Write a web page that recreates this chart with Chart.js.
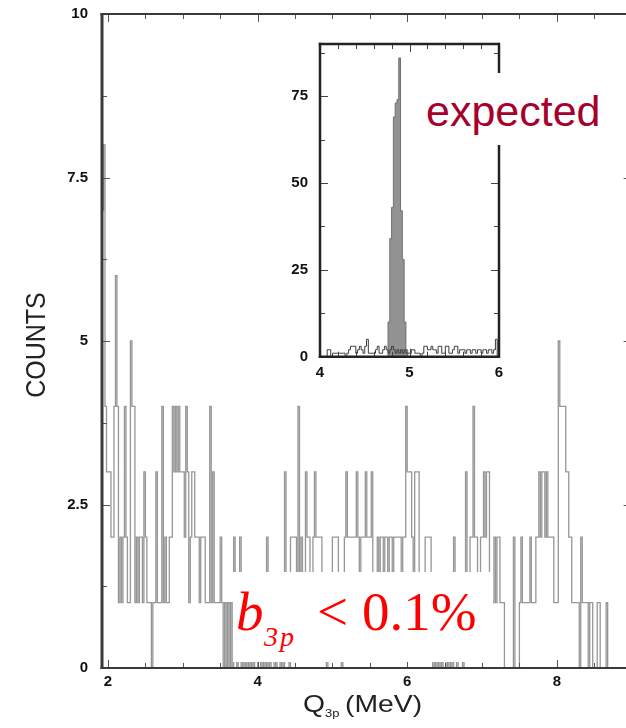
<!DOCTYPE html>
<html>
<head>
<meta charset="utf-8">
<script src="https://cdn.jsdelivr.net/npm/chart.js@4.4.1/dist/chart.umd.min.js"></script>
<style>
  html, body { margin: 0; padding: 0; background: #fff; width: 626px; height: 728px; overflow: hidden; }
  #wrap { position: relative; width: 626px; height: 728px; overflow: hidden; background: #fff; }
  #main { position: absolute; left: 0; top: 0; }
  #inset { position: absolute; left: 270px; top: 30px; }
  .box { position: absolute; background: #fff; }
  .t { position: absolute; white-space: nowrap; }
</style>
</head>
<body>
<div id="wrap">
  <canvas id="main" width="640" height="728"></canvas>
  <canvas id="inset" width="250" height="370"></canvas>

  <div class="box" style="left:420px;top:73px;width:190px;height:72px"></div>
  <span class="t" style="left:426px;top:89.6px;font:43px/1 'Liberation Sans',Arial,sans-serif;color:#a6002c">expected</span>

  <div class="box" style="left:233px;top:572px;width:260px;height:90px"></div>
  <span class="t" style="left:236px;top:584px;font:italic 55px/1 'Liberation Serif','Times New Roman',serif;color:#ff0000">b</span>
  <span class="t" style="left:264px;top:623px;font:italic 28px/1 'Liberation Serif','Times New Roman',serif;color:#ff0000;letter-spacing:2px">3p</span>
  <span class="t" style="left:317px;top:584px;font:55px/1 'Liberation Serif','Times New Roman',serif;color:#ff0000">&lt;</span>
  <span class="t" style="left:362px;top:584px;font:55px/1 'Liberation Serif','Times New Roman',serif;color:#ff0000">0.1%</span>
</div>

<script>
// ---- Q3p spectrum: counts per 20 keV bin, starting at 1.92 MeV ----
const mainBinStart = 1.92;
const mainBinWidth = 0.02;
const mainCounts = [
  10,7,8,4,3,3,3,2,2,4,6,4,1,2,1,2,4,2,1,1,5,4,4,1,2,
  1,2,2,1,3,2,1,1,1,0,1,1,3,1,1,1,4,1,2,1,1,2,2,4,3,
  4,3,4,3,3,3,2,4,3,1,2,3,3,2,2,2,1,2,2,2,1,1,1,4,1,
  3,1,1,1,1,2,1,0,1,0,1,0,1,0,2,1,0,1,2,0,1,0,1,0,1,
  0,1,0,1,1,0,0,1,0,1,0,2,0,1,0,0,1,0,1,1,0,1,0,3,1,
  1,0,2,2,2,2,1,4,1,2,1,1,3,2,2,1,1,2,3,2,2,2,2,1,1,
  1,0,1,1,1,2,2,2,2,1,1,0,1,2,3,2,2,2,2,2,2,3,2,1,2,
  2,2,3,2,2,2,3,1,1,1,2,1,2,2,1,2,2,1,2,2,1,2,2,2,2,
  2,1,2,2,4,3,3,3,2,1,3,3,3,1,1,1,1,2,2,2,2,1,0,1,0,
  1,0,1,0,1,1,0,1,0,1,0,2,1,0,1,1,1,0,1,3,1,1,2,2,4,
  2,2,1,1,2,2,3,2,3,3,1,1,1,2,1,2,2,1,1,1,0,0,0,0,0,
  0,2,0,0,0,1,2,1,1,1,1,1,2,1,1,1,2,2,3,2,3,3,2,3,2,
  2,2,2,1,1,1,5,4,4,4,4,3,3,2,2,1,1,1,1,1,0,2,1,1,1,
  1,0,1,1,0,0,0,1,1,0,0,0,0,1,0,0,0,0,0,0,0,0,0,0,0
];
const mainXRange = [1.92, 9.0];
const mainYRange = [0, 10];
const mainXLabels = [2, 4, 6, 8];
const mainYLabels = [0, 2.5, 5, 7.5, 10];

// ---- expected spectrum (inset): peak and measured background, 20 keV bins ----
const insetBinWidth = 0.02;
const peakStart = 4.76;
const peakCounts = [2, 10, 34, 43, 69, 73, 74, 86, 42, 28, 10, 2];
const bgStart = 4.0;
const bgCounts = [
  0,0,0,0,0,2,2,0,1,1,
  1,1,1,1,1,0,1,2,3,3,
  3,1,2,3,2,1,3,5,1,1,
  1,1,2,3,1,1,2,3,2,1,
  2,3,2,1,2,1,2,1,2,1,
  1,1,2,2,1,1,1,0,1,3,
  3,2,2,3,2,2,1,3,3,1,
  1,3,3,1,1,2,3,3,1,2,
  2,2,1,2,2,1,2,2,1,2,
  2,1,2,2,1,2,2,1,2,5
];
const insetXRange = [4, 6];
const insetYRange = [0, 90];
const insetXLabels = [4, 5, 6];
const insetYLabels = [0, 25, 50, 75];

// histogram outline as step points (bin edges), closed to zero at both ends
function stepPoints(start, width, counts) {
  const pts = [{ x: start, y: 0 }];
  counts.forEach((c, i) => pts.push({ x: +(start + i * width).toFixed(4), y: c }));
  pts.push({ x: +(start + counts.length * width).toFixed(4), y: 0 });
  return pts;
}

function seq(from, to, step) {
  const out = [];
  for (let v = from; v <= to + 1e-9; v += step) out.push(+v.toFixed(4));
  return out;
}

const isIn = (arr, v) => arr.some(a => Math.abs(a - v) < 1e-6);

// fixed axis box sizes, no extra room reserved for label overhang
const fixWidth = w => s => { s.width = w; s.paddingTop = 0; s.paddingBottom = 0; };
const fixHeight = h => s => { s.height = h; s.paddingLeft = 0; s.paddingRight = 0; };

// frame with inward major/minor ticks on all four sides
function framePlugin(o) {
  return {
    id: 'frame',
    afterDatasetsDraw(chart) {
      const { ctx, chartArea: a, scales: { x, y } } = chart;
      ctx.save();
      ctx.strokeStyle = o.tickColor;
      ctx.lineWidth = 1;
      ctx.beginPath();
      o.xTicks.forEach(v => {
        const px = Math.round(x.getPixelForValue(v)) + 0.5;
        const len = isIn(o.xMajor, v) ? o.majorLen : o.minorLen;
        ctx.moveTo(px, a.top); ctx.lineTo(px, a.top + len);
        ctx.moveTo(px, a.bottom); ctx.lineTo(px, a.bottom - len);
      });
      o.yTicks.forEach(v => {
        const py = Math.round(y.getPixelForValue(v)) + 0.5;
        const len = isIn(o.yMajor, v) ? o.majorLen : o.minorLen;
        ctx.moveTo(a.left, py); ctx.lineTo(a.left + len, py);
        ctx.moveTo(a.right, py); ctx.lineTo(a.right - len, py);
      });
      ctx.stroke();
      ctx.strokeStyle = o.frameColor;
      const side = (w, x1, y1, x2, y2) => {
        ctx.lineWidth = w; ctx.beginPath(); ctx.moveTo(x1, y1); ctx.lineTo(x2, y2); ctx.stroke();
      };
      const fw = o.frameWidths;
      side(fw.top, a.left - fw.left / 2, a.top, a.right, a.top);
      side(fw.bottom, a.left - fw.left / 2, a.bottom, a.right, a.bottom);
      side(fw.left, a.left, a.top - fw.top / 2, a.left, a.bottom + fw.bottom / 2);
      side(fw.right, a.right, a.top - fw.top / 2, a.right, a.bottom + fw.bottom / 2);
      ctx.restore();
    }
  };
}

// axis titles of the main spectrum
const titlePlugin = {
  id: 'titles',
  afterDraw(chart) {
    const ctx = chart.ctx;
    ctx.save();
    ctx.fillStyle = '#222';
    // vertical title
    ctx.translate(36, 345);
    ctx.rotate(-Math.PI / 2);
    ctx.scale(1, 1.12);
    ctx.font = "25px 'Liberation Sans', Arial, sans-serif";
    ctx.textAlign = 'center';
    ctx.textBaseline = 'middle';
    ctx.fillText('COUNTS', 0, 1);
    ctx.restore();

    // horizontal title Q_3p (MeV)
    ctx.save();
    ctx.fillStyle = '#222';
    ctx.textBaseline = 'alphabetic';
    ctx.textAlign = 'left';
    const piece = (txt, x, yb, size) => {
      ctx.save();
      ctx.translate(x, yb);
      ctx.scale(1.18, 1);
      ctx.font = size + "px 'Liberation Sans', Arial, sans-serif";
      ctx.fillText(txt, 0, 0);
      ctx.restore();
    };
    piece('Q', 303, 712, 24);
    piece('3p', 325, 717, 11);
    piece('(MeV)', 345, 712, 24);
    ctx.restore();
  }
};

const tickFont = { family: "'Liberation Sans', Arial, sans-serif", size: 15, weight: 'bold' };

new Chart(document.getElementById('main'), {
  type: 'line',
  data: {
    datasets: [{
      data: stepPoints(mainBinStart, mainBinWidth, mainCounts),
      stepped: 'after',
      borderColor: '#969696',
      borderWidth: 1.3,
      pointRadius: 0,
      fill: false
    }]
  },
  options: {
    responsive: false,
    animation: false,
    events: [],
    layout: { padding: { top: 14, right: 8.4, left: 0, bottom: 0 } },
    plugins: { legend: { display: false }, tooltip: { enabled: false } },
    scales: {
      x: {
        type: 'linear',
        min: mainXRange[0], max: mainXRange[1],
        afterBuildTicks: s => { s.ticks = mainXLabels.map(v => ({ value: v })); },
        afterFit: fixHeight(60),
        grid: { display: false, drawTicks: false },
        border: { display: false },
        ticks: { padding: 5, font: tickFont, color: '#111', maxRotation: 0, autoSkip: false,
                 callback: v => String(v) }
      },
      y: {
        type: 'linear',
        min: mainYRange[0], max: mainYRange[1],
        afterBuildTicks: s => { s.ticks = mainYLabels.map(v => ({ value: v })); },
        afterFit: fixWidth(102),
        grid: { display: false, drawTicks: false },
        border: { display: false },
        ticks: { padding: 14, font: tickFont, color: '#111', autoSkip: false,
                 callback: v => String(v) }
      }
    }
  },
  plugins: [
    framePlugin({
      xTicks: seq(2, 9, 0.5), xMajor: mainXLabels,
      yTicks: seq(0, 10, 1.25), yMajor: mainYLabels,
      majorLen: 8, minorLen: 5, tickColor: '#555',
      frameColor: '#3a3a3a', frameWidths: { left: 3, top: 2, bottom: 2, right: 2 }
    }),
    titlePlugin
  ]
});

new Chart(document.getElementById('inset'), {
  type: 'line',
  data: {
    datasets: [
      {
        data: stepPoints(bgStart, insetBinWidth, bgCounts),
        stepped: 'after',
        borderColor: '#3c3c3c',
        borderWidth: 1,
        pointRadius: 0,
        fill: false,
        order: 0
      },
      {
        data: stepPoints(peakStart, insetBinWidth, peakCounts),
        stepped: 'after',
        borderColor: '#707070',
        borderWidth: 1,
        backgroundColor: '#929292',
        pointRadius: 0,
        fill: 'origin',
        order: 1
      }
    ]
  },
  options: {
    responsive: false,
    animation: false,
    events: [],
    layout: { padding: { top: 14, right: 21, left: 0, bottom: 0 } },
    plugins: { legend: { display: false }, tooltip: { enabled: false } },
    scales: {
      x: {
        type: 'linear',
        min: insetXRange[0], max: insetXRange[1],
        afterBuildTicks: s => { s.ticks = insetXLabels.map(v => ({ value: v })); },
        afterFit: fixHeight(43.3),
        grid: { display: false, drawTicks: false },
        border: { display: false },
        ticks: { padding: 7, font: tickFont, color: '#111', maxRotation: 0, autoSkip: false,
                 callback: v => String(v) }
      },
      y: {
        type: 'linear',
        min: insetYRange[0], max: insetYRange[1],
        afterBuildTicks: s => { s.ticks = insetYLabels.map(v => ({ value: v })); },
        afterFit: fixWidth(50),
        grid: { display: false, drawTicks: false },
        border: { display: false },
        ticks: { padding: 12, font: tickFont, color: '#111', autoSkip: false,
                 callback: v => String(v) }
      }
    }
  },
  plugins: [
    framePlugin({
      xTicks: seq(4, 6, 0.2), xMajor: insetXLabels,
      yTicks: seq(0, 90, 12.5), yMajor: insetYLabels,
      majorLen: 8, minorLen: 5, tickColor: '#444',
      frameColor: '#222', frameWidths: { left: 2.5, top: 2.5, bottom: 2.5, right: 2.5 }
    })
  ]
});
</script>
</body>
</html>
